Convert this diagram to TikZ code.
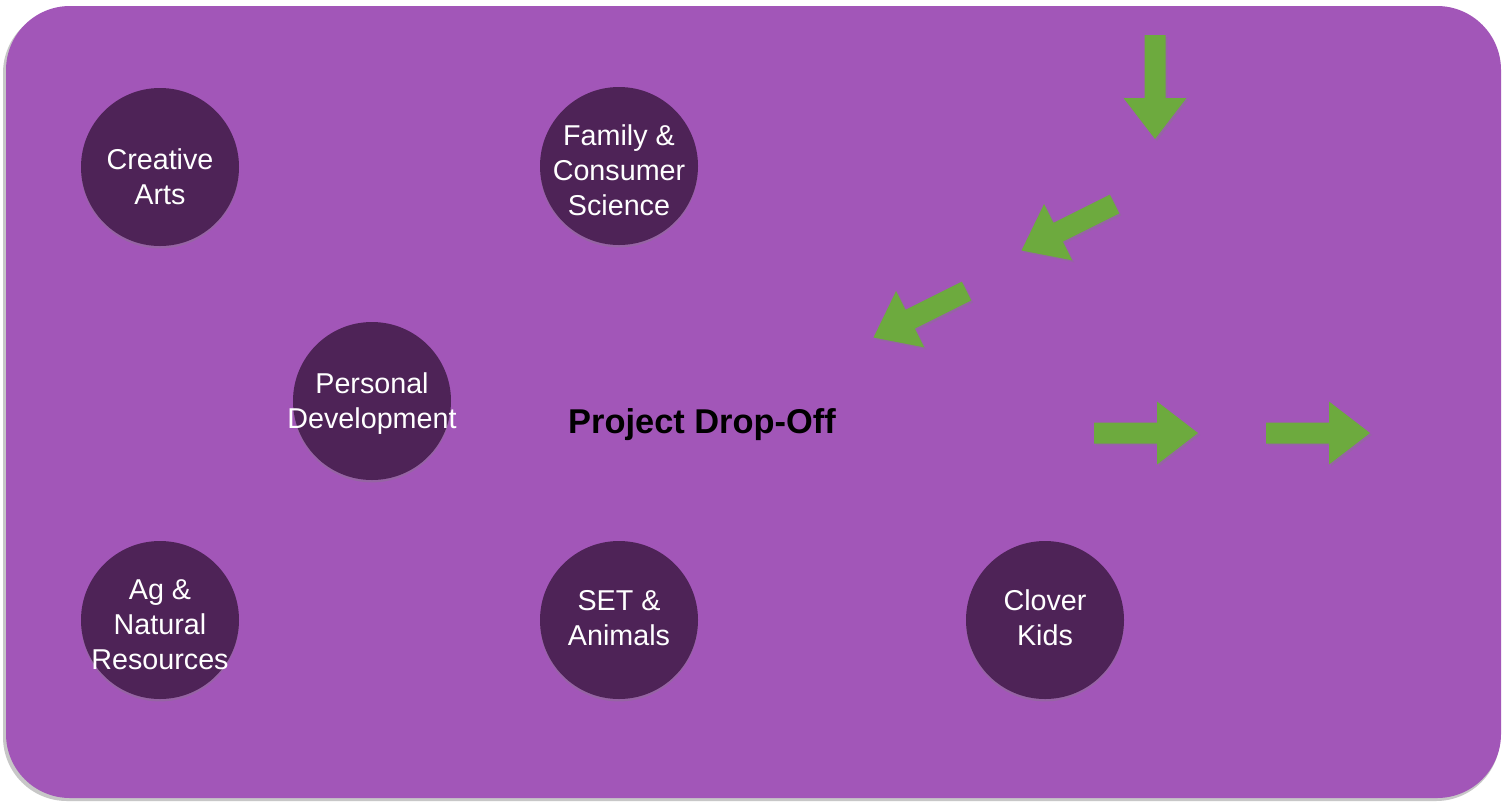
\documentclass[tikz,border=0pt]{standalone}
\usepackage{fontspec}
\setmainfont{Liberation Sans}
\usetikzlibrary{shadows}
\definecolor{bgpurple}{HTML}{A256B8}
\definecolor{dotpurple}{HTML}{4E2357}
\definecolor{arrowgreen}{HTML}{6DAA3E}
\tikzset{
  topic/.style={circle, fill=dotpurple, minimum size=79pt, inner sep=0pt,
    drop shadow={shadow xshift=0pt, shadow yshift=-1.2pt, opacity=0.35}},
  topictext/.style={text=white, align=center, inner sep=0pt,
    font=\fontsize{14.35}{17.5}\selectfont},
  title/.style={text=black, font=\fontsize{17.2}{20}\selectfont\bfseries},
  greenarrow/.style={fill=arrowgreen,
    drop shadow={shadow xshift=1pt, shadow yshift=-1pt, opacity=0.3}},
  pics/bigarrow/.style={code={
    \fill[greenarrow] (0,-10.5) -- (63,-10.5) -- (63,-31.5) -- (104,0)
      -- (63,31.5) -- (63,10.5) -- (0,10.5) -- cycle;}}
}
\begin{document}
\begin{tikzpicture}[x=0.5pt, y=-0.5pt]
\useasboundingbox (0,0) rectangle (1510,804);
\fill[white] (0,0) rectangle (1510,804);
% background panel with soft shadow
\fill[black!22, rounded corners=32pt] (3,9) rectangle (1500,801);
\fill[bgpurple, rounded corners=32pt] (6,6) rectangle (1501,798);
% topic circles
\node[topic, label={[topictext, yshift=-5pt]center:{Creative\\Arts}}] (creative) at (160,167) {};
\node[topic, label={[topictext, yshift=-2pt]center:{Family \&\\Consumer\\Science}}] (family) at (619,166) {};
\node[topic, label={[topictext, yshift=-1.5pt]center:{Personal\\Development}}] (personal) at (372,401) {};
\node[topic, label={[topictext, yshift=-2.5pt]center:{Ag \&\\Natural\\Resources}}] (ag) at (160,620) {};
\node[topic, label={[topictext, yshift=1pt]center:{SET \&\\Animals}}] (set) at (619,620) {};
\node[topic, label={[topictext, yshift=1pt]center:{Clover\\Kids}}] (clover) at (1045,620) {};
% title
\node[title] (drop) at (702,425) {Project Drop-Off};
% green arrows
\pic[rotate=-90] at (1155,35) {bigarrow};
\pic[rotate=206.57] at (1114.5,204) {bigarrow};
\pic[rotate=206.57] at (966.5,291) {bigarrow};
\pic at (1094,433) {bigarrow};
\pic at (1266,433) {bigarrow};
\end{tikzpicture}
\end{document}
